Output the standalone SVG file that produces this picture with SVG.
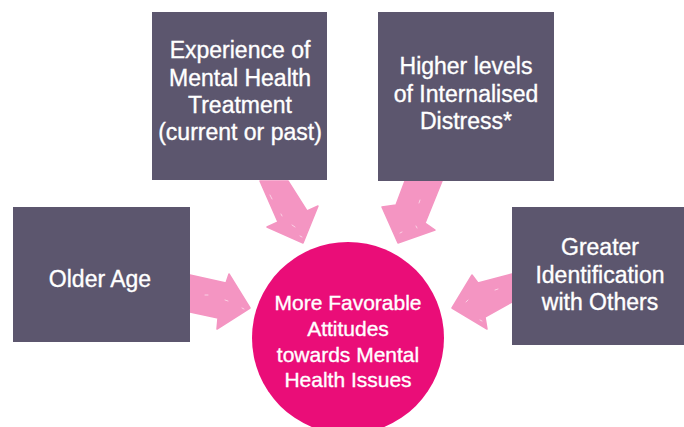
<svg xmlns="http://www.w3.org/2000/svg" width="684" height="427" viewBox="0 0 684 427">
<style>
.box{fill:#5c566e;}
.bt{fill:#ffffff;stroke:#ffffff;stroke-width:0.35;font-family:"Liberation Sans",Arial,sans-serif;font-size:23px;text-anchor:middle;}
.ct{fill:#ffffff;stroke:#ffffff;stroke-width:0.35;font-family:"Liberation Sans",Arial,sans-serif;font-size:21px;text-anchor:middle;}
.arrow{fill:#f495c2;stroke:#f495c2;stroke-width:1.5;stroke-linejoin:round;}
.speck{stroke:#ffffff;stroke-width:0.8;stroke-linecap:round;opacity:0.7;fill:none;}
</style>
<rect width="684" height="427" fill="#ffffff"/>
<g id="connectors">
  <polygon class="arrow" points="260,181 288,181 307,211 318,206 303,243 267,227 278,222"/>
  <polygon class="arrow" points="405,181 442,181 425,223 435,230 398,243 382,207 396,205"/>
  <polygon class="arrow" points="190,275 226,283 229,274 250,308 217,329 218,318 190,312"/>
  <polygon class="arrow" points="512,274 478,283 472,275 452,308 487,329 485,317 512,302"/>
  <path class="speck" d="M270,195 l2,4 M292,225 l3,2 M300,236 l2,1 M281,214 l1,2 M420,200 l-1,3 M402,232 l-2,1 M416,226 l1,2 M225,300 l3,1 M242,308 l2,1 M205,295 l3,0 M468,300 l-2,2 M495,290 l3,-1 M480,320 l2,1"/>
</g>
<g id="node-experience">
  <rect class="box" x="152" y="12" width="175" height="168"/>
  <text class="bt" x="240" y="58">Experience of</text>
  <text class="bt" x="240" y="86">Mental Health</text>
  <text class="bt" x="240" y="113">Treatment</text>
  <text class="bt" x="240" y="140">(current or past)</text>
</g>
<g id="node-distress">
  <rect class="box" x="378" y="12" width="176" height="169"/>
  <text class="bt" x="466" y="74">Higher levels</text>
  <text class="bt" x="466" y="102">of Internalised</text>
  <text class="bt" x="466" y="129">Distress*</text>
</g>
<g id="node-age">
  <rect class="box" x="13" y="207" width="177" height="135"/>
  <text class="bt" x="100" y="287">Older Age</text>
</g>
<g id="node-identification">
  <rect class="box" x="512" y="207" width="172" height="138"/>
  <text class="bt" x="600" y="255">Greater</text>
  <text class="bt" x="600" y="283">Identification</text>
  <text class="bt" x="600" y="310">with Others</text>
</g>
<g id="node-attitudes">
  <circle cx="348" cy="338" r="96" fill="#ea0d78"/>
  <text class="ct" x="348" y="310">More Favorable</text>
  <text class="ct" x="348" y="336">Attitudes</text>
  <text class="ct" x="348" y="362">towards Mental</text>
  <text class="ct" x="348" y="387">Health Issues</text>
</g>
</svg>
